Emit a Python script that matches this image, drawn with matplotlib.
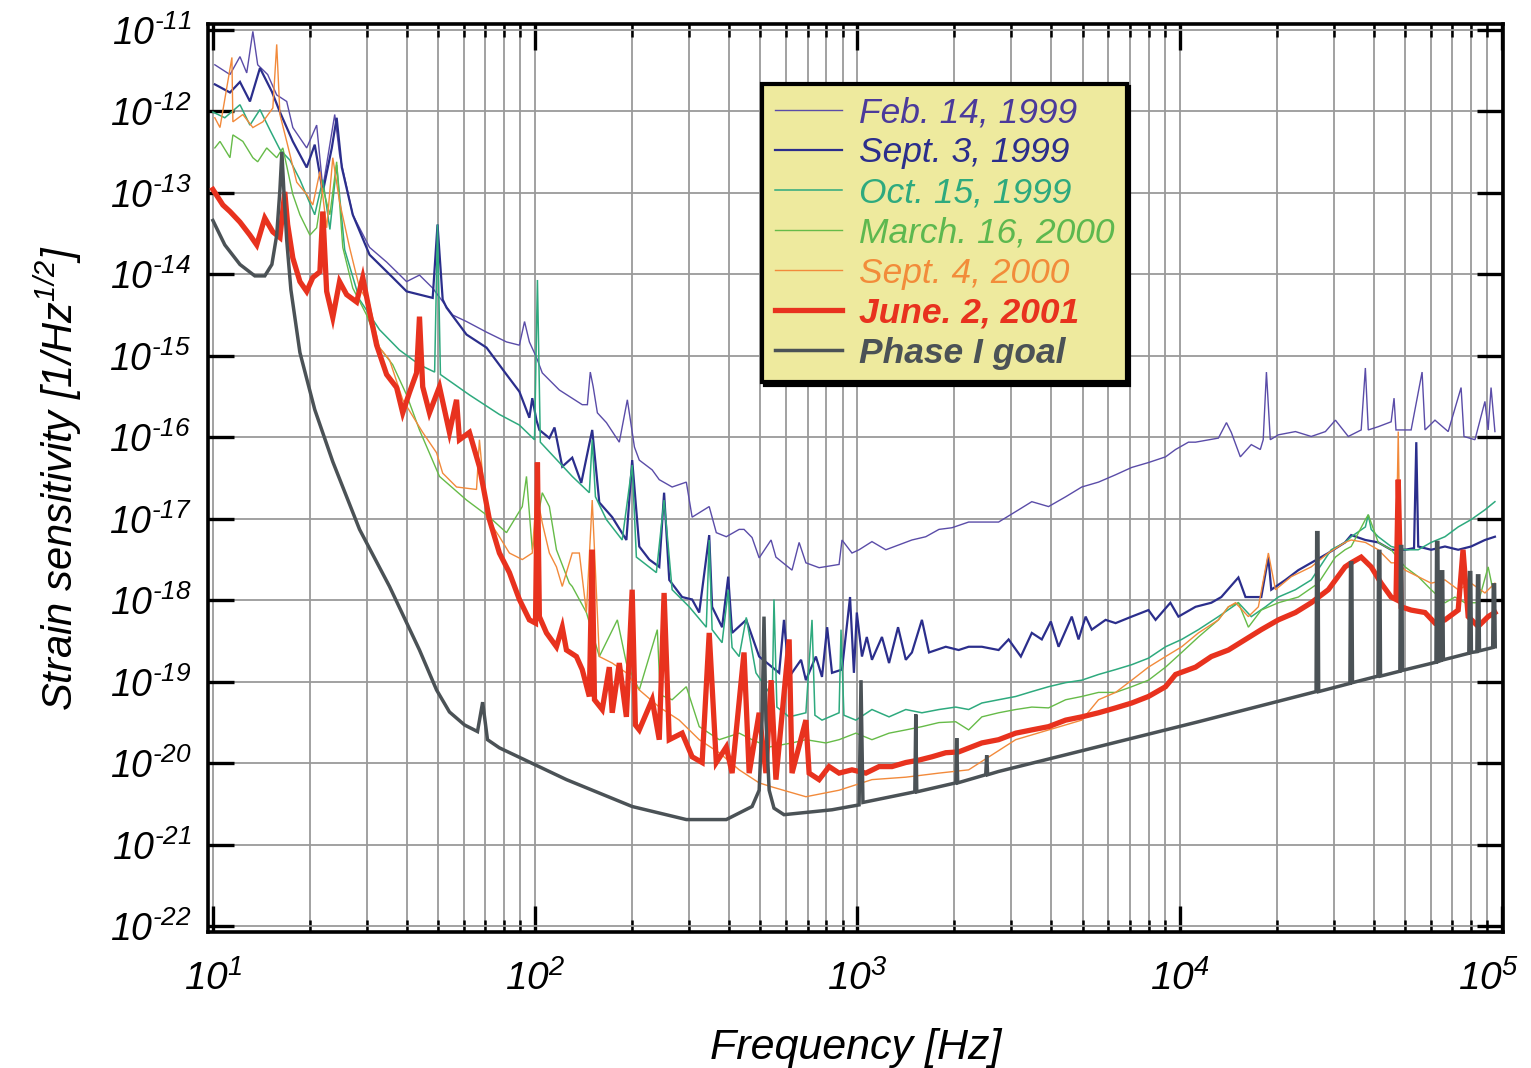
import numpy as np
import matplotlib
matplotlib.use('Agg')
import matplotlib.pyplot as plt
from matplotlib import font_manager as fm
from matplotlib.font_manager import FontProperties
from matplotlib.ticker import FixedLocator, NullLocator, FuncFormatter
from matplotlib.transforms import ScaledTranslation

# ---------------- data (log10 frequency [Hz], log10 strain [1/sqrt(Hz)]) ----------------
feb99_logf = [1.006, 1.053, 1.084, 1.105, 1.124, 1.139, 1.170, 1.198, 1.229, 1.248, 1.291, 1.322, 1.341, 1.378,
              1.393, 1.434, 1.486, 1.539, 1.601, 1.641, 1.682, 1.744, 1.787, 1.849, 1.911, 1.951, 1.967, 1.982,
              2.004, 2.022, 2.075, 2.146, 2.162, 2.171, 2.180, 2.193, 2.221, 2.261, 2.286, 2.308, 2.323, 2.363,
              2.385, 2.425, 2.469, 2.487, 2.540, 2.562, 2.593, 2.633, 2.648, 2.673, 2.695, 2.732, 2.747, 2.797,
              2.819, 2.840, 2.881, 2.943, 2.952, 2.983, 3.005, 3.045, 3.088, 3.169, 3.212, 3.253, 3.293, 3.345,
              3.438, 3.500, 3.541, 3.593, 3.646, 3.696, 3.748, 3.801, 3.851, 3.903, 3.956, 3.987, 4.027, 4.049,
              4.120, 4.145, 4.160, 4.188, 4.222, 4.250, 4.259, 4.269, 4.281, 4.306, 4.359, 4.408, 4.452, 4.483,
              4.523, 4.563, 4.576, 4.585, 4.616, 4.656, 4.665, 4.671, 4.718, 4.752, 4.761, 4.792, 4.833, 4.873,
              4.882, 4.916, 4.947, 4.957, 4.966, 4.978]
feb99_logh = [-11.43, -11.55, -11.33, -11.53, -11.02, -11.43, -11.55, -11.80, -11.88, -12.20, -12.45, -12.17, -12.94,
              -12.04, -12.53, -13.27, -13.67, -13.85, -14.09, -14.01, -14.17, -14.50, -14.58, -14.71, -14.83, -14.87,
              -14.58, -14.83, -15.02, -15.21, -15.42, -15.60, -15.60, -15.20, -15.38, -15.70, -15.82, -16.06, -15.54,
              -16.12, -16.28, -16.40, -16.52, -16.61, -16.55, -16.98, -16.85, -17.17, -17.22, -17.13, -17.13, -17.23,
              -17.48, -17.26, -17.47, -17.63, -17.29, -17.54, -17.60, -17.56, -17.26, -17.42, -17.38, -17.28, -17.38,
              -17.26, -17.22, -17.13, -17.11, -17.04, -17.04, -16.89, -16.79, -16.85, -16.73, -16.61, -16.55, -16.46,
              -16.37, -16.31, -16.24, -16.15, -16.06, -16.06, -16.01, -15.82, -15.94, -16.24, -16.09, -16.15, -16.03,
              -15.20, -16.03, -15.97, -15.93, -15.99, -15.93, -15.79, -15.99, -15.91, -15.15, -15.91, -15.87, -15.81,
              -15.52, -15.91, -15.91, -15.20, -15.91, -15.79, -15.93, -15.39, -15.99, -16.03, -15.56, -15.91, -15.39,
              -15.93]

sep99_logf = [1.006, 1.053, 1.084, 1.115, 1.146, 1.183, 1.208, 1.248, 1.291, 1.316, 1.341, 1.369, 1.384, 1.400,
              1.434, 1.486, 1.558, 1.601, 1.682, 1.697, 1.713, 1.725, 1.787, 1.849, 1.911, 1.951, 1.982, 1.991,
              2.004, 2.013, 2.044, 2.060, 2.084, 2.115, 2.143, 2.177, 2.199, 2.239, 2.283, 2.301, 2.323, 2.354,
              2.385, 2.400, 2.416, 2.456, 2.487, 2.509, 2.540, 2.549, 2.580, 2.599, 2.611, 2.655, 2.695, 2.735,
              2.757, 2.772, 2.788, 2.825, 2.840, 2.871, 2.890, 2.906, 2.921, 2.952, 2.977, 2.989, 2.998, 3.014,
              3.029, 3.045, 3.076, 3.098, 3.126, 3.150, 3.169, 3.200, 3.222, 3.274, 3.314, 3.345, 3.386, 3.438,
              3.469, 3.507, 3.541, 3.572, 3.600, 3.624, 3.665, 3.686, 3.708, 3.727, 3.770, 3.801, 3.851, 3.903,
              3.925, 3.971, 3.996, 4.049, 4.098, 4.129, 4.182, 4.204, 4.253, 4.275, 4.284, 4.328, 4.368, 4.408,
              4.461, 4.513, 4.532, 4.576, 4.616, 4.656, 4.699, 4.727, 4.734, 4.740, 4.780, 4.823, 4.864, 4.904,
              4.947, 4.978]
sep99_logh = [-11.67, -11.77, -11.64, -11.88, -11.47, -11.76, -12.01, -12.37, -12.69, -12.41, -12.99, -12.45, -12.08,
              -12.69, -13.27, -13.76, -14.04, -14.21, -14.29, -13.39, -14.31, -14.41, -14.74, -14.90, -15.23, -15.44,
              -15.76, -15.52, -15.79, -15.91, -16.01, -15.88, -16.36, -16.25, -16.56, -15.91, -16.80, -16.98, -17.26,
              -16.28, -17.34, -17.50, -17.59, -16.68, -17.75, -17.96, -17.99, -18.15, -17.20, -18.08, -18.33, -17.71,
              -18.40, -18.24, -18.69, -18.82, -18.89, -18.24, -18.94, -18.73, -18.98, -18.69, -18.94, -18.33, -18.89,
              -18.85, -17.96, -18.89, -18.15, -18.69, -18.45, -18.73, -18.45, -18.77, -18.33, -18.73, -18.64, -18.24,
              -18.64, -18.57, -18.61, -18.57, -18.57, -18.61, -18.48, -18.69, -18.40, -18.48, -18.26, -18.57, -18.20,
              -18.48, -18.20, -18.36, -18.24, -18.28, -18.20, -18.12, -18.24, -18.03, -18.20, -18.08, -18.03, -17.96,
              -17.72, -17.96, -17.96, -17.47, -17.87, -17.75, -17.63, -17.54, -17.42, -17.29, -17.20, -17.26, -17.29,
              -17.38, -17.38, -17.36, -16.06, -17.34, -17.38, -17.34, -17.38, -17.34, -17.26, -17.22]

oct99_logf = [1.000, 1.037, 1.084, 1.115, 1.146, 1.177, 1.208, 1.239, 1.270, 1.316, 1.341, 1.363, 1.384, 1.409,
              1.455, 1.517, 1.579, 1.641, 1.688, 1.697, 1.706, 1.796, 1.889, 1.951, 1.998, 2.007, 2.016, 2.115,
              2.168, 2.177, 2.187, 2.221, 2.270, 2.301, 2.314, 2.376, 2.400, 2.425, 2.478, 2.531, 2.540, 2.549,
              2.580, 2.599, 2.611, 2.633, 2.655, 2.685, 2.726, 2.735, 2.741, 2.750, 2.788, 2.840, 2.859, 2.868,
              2.890, 2.943, 2.949, 2.958, 2.995, 3.045, 3.098, 3.150, 3.200, 3.253, 3.305, 3.345, 3.386, 3.438,
              3.491, 3.541, 3.593, 3.646, 3.696, 3.748, 3.801, 3.851, 3.903, 3.956, 4.006, 4.058, 4.120, 4.182,
              4.222, 4.266, 4.306, 4.359, 4.408, 4.470, 4.513, 4.532, 4.576, 4.585, 4.594, 4.616, 4.656, 4.699,
              4.740, 4.780, 4.823, 4.864, 4.904, 4.947, 4.978]
oct99_logh = [-12.01, -12.08, -11.92, -12.17, -11.98, -12.23, -12.47, -12.60, -12.84, -13.27, -12.84, -13.45, -12.66,
              -13.70, -14.31, -14.68, -14.93, -15.11, -15.20, -13.39, -15.23, -15.48, -15.72, -15.85, -16.03, -14.07,
              -16.06, -16.48, -16.68, -16.03, -16.73, -17.01, -17.26, -16.34, -17.47, -17.66, -16.77, -17.87, -18.08,
              -18.33, -17.26, -18.36, -18.52, -17.87, -18.58, -18.69, -18.21, -18.89, -19.13, -19.31, -17.99, -19.31,
              -19.43, -19.38, -18.24, -19.41, -19.47, -19.38, -18.36, -19.41, -19.47, -19.34, -19.43, -19.34, -19.38,
              -19.34, -19.31, -19.34, -19.26, -19.22, -19.18, -19.12, -19.06, -19.01, -18.98, -18.91, -18.85, -18.79,
              -18.71, -18.57, -18.48, -18.36, -18.20, -18.03, -18.20, -18.08, -17.96, -17.87, -17.75, -17.38, -17.29,
              -17.22, -17.10, -16.95, -17.13, -17.22, -17.34, -17.38, -17.38, -17.29, -17.22, -17.10, -17.01, -16.89,
              -16.79]

mar00_logf = [1.006, 1.022, 1.053, 1.062, 1.093, 1.124, 1.139, 1.167, 1.198, 1.217, 1.248, 1.270, 1.301, 1.322,
              1.341, 1.363, 1.384, 1.403, 1.434, 1.477, 1.517, 1.558, 1.601, 1.641, 1.703, 1.787, 1.858, 1.911,
              1.960, 1.973, 1.991, 2.022, 2.044, 2.066, 2.106, 2.115, 2.159, 2.199, 2.255, 2.283, 2.323, 2.379,
              2.388, 2.425, 2.469, 2.509, 2.571, 2.633, 2.673, 2.726, 2.797, 2.840, 2.902, 2.943, 2.995, 3.045,
              3.098, 3.150, 3.200, 3.253, 3.305, 3.345, 3.386, 3.438, 3.491, 3.541, 3.593, 3.646, 3.696, 3.748,
              3.801, 3.851, 3.903, 3.956, 4.006, 4.058, 4.120, 4.151, 4.182, 4.213, 4.253, 4.306, 4.368, 4.430,
              4.483, 4.513, 4.532, 4.576, 4.585, 4.616, 4.656, 4.699, 4.740, 4.780, 4.823, 4.854, 4.885, 4.926,
              4.957, 4.978]
mar00_logh = [-12.45, -12.37, -12.57, -12.29, -12.37, -12.57, -12.62, -12.45, -12.57, -12.45, -13.02, -13.27, -13.52,
              -13.43, -12.94, -13.27, -12.62, -13.67, -14.17, -14.50, -14.90, -15.11, -15.48, -15.91, -16.48, -16.77,
              -16.98, -17.17, -16.85, -16.48, -17.38, -16.68, -16.85, -17.38, -17.79, -17.83, -18.15, -18.69, -18.24,
              -18.77, -19.10, -18.36, -19.16, -19.22, -19.06, -19.55, -19.71, -19.63, -19.71, -19.80, -19.75, -19.71,
              -19.75, -19.71, -19.63, -19.71, -19.63, -19.59, -19.55, -19.50, -19.49, -19.59, -19.43, -19.38, -19.34,
              -19.31, -19.32, -19.22, -19.18, -19.13, -19.13, -19.06, -18.98, -18.82, -18.64, -18.45, -18.24, -18.08,
              -18.03, -18.33, -18.12, -18.03, -17.96, -17.79, -17.47, -17.38, -17.34, -17.01, -16.95, -17.29, -17.38,
              -17.59, -17.71, -17.87, -18.03, -17.96, -18.03, -18.03, -17.59, -17.99]

sep00_logf = [1.006, 1.022, 1.059, 1.062, 1.093, 1.124, 1.155, 1.186, 1.198, 1.208, 1.229, 1.260, 1.291, 1.310,
              1.332, 1.353, 1.372, 1.393, 1.424, 1.455, 1.486, 1.517, 1.548, 1.589, 1.651, 1.694, 1.713, 1.756,
              1.818, 1.827, 1.849, 1.889, 1.920, 1.960, 1.991, 2.004, 2.022, 2.044, 2.066, 2.084, 2.115, 2.137,
              2.159, 2.177, 2.199, 2.239, 2.283, 2.323, 2.385, 2.447, 2.509, 2.571, 2.633, 2.695, 2.735, 2.840,
              2.943, 3.045, 3.150, 3.253, 3.345, 3.491, 3.696, 3.748, 3.801, 3.851, 3.903, 3.956, 4.006, 4.058,
              4.120, 4.151, 4.173, 4.213, 4.244, 4.275, 4.297, 4.346, 4.408, 4.461, 4.513, 4.532, 4.576, 4.616,
              4.656, 4.671, 4.678, 4.684, 4.699, 4.740, 4.780, 4.823, 4.864, 4.904, 4.947, 4.978]
sep00_logh = [-12.08, -12.20, -11.34, -12.13, -12.04, -12.20, -12.13, -11.96, -11.18, -12.04, -12.37, -12.87, -13.02,
              -13.15, -12.74, -13.43, -12.57, -13.11, -13.67, -14.17, -14.37, -14.90, -15.05, -15.54, -15.94, -16.19,
              -16.44, -16.61, -16.64, -16.03, -16.98, -17.22, -17.42, -17.50, -17.42, -16.68, -17.05, -17.42, -17.59,
              -17.83, -17.42, -17.42, -18.15, -16.77, -18.69, -18.77, -18.89, -19.10, -19.31, -19.47, -19.71, -19.87,
              -20.08, -20.24, -20.29, -20.41, -20.33, -20.20, -20.17, -20.12, -20.08, -19.71, -19.47, -19.22, -19.13,
              -18.98, -18.82, -18.69, -18.57, -18.40, -18.24, -18.08, -18.03, -18.20, -18.08, -17.42, -17.87, -17.71,
              -17.59, -17.42, -17.29, -17.26, -17.29, -17.38, -17.54, -17.54, -15.93, -17.56, -17.63, -17.71, -17.79,
              -17.75, -17.87, -17.79, -17.91, -17.79]

jun01_logf = [1.000, 1.031, 1.053, 1.084, 1.115, 1.136, 1.161, 1.186, 1.208, 1.223, 1.232, 1.248, 1.270, 1.291,
              1.310, 1.332, 1.341, 1.353, 1.372, 1.393, 1.415, 1.446, 1.465, 1.486, 1.508, 1.539, 1.570, 1.589,
              1.610, 1.632, 1.641, 1.651, 1.672, 1.703, 1.734, 1.756, 1.765, 1.796, 1.827, 1.858, 1.889, 1.920,
              1.951, 1.982, 2.001, 2.007, 2.013, 2.035, 2.066, 2.084, 2.097, 2.128, 2.146, 2.168, 2.177, 2.184,
              2.208, 2.230, 2.239, 2.261, 2.283, 2.301, 2.311, 2.323, 2.363, 2.385, 2.400, 2.416, 2.456, 2.487,
              2.518, 2.540, 2.562, 2.593, 2.611, 2.648, 2.664, 2.695, 2.716, 2.732, 2.747, 2.788, 2.797, 2.840,
              2.850, 2.881, 2.912, 2.943, 2.983, 3.026, 3.067, 3.107, 3.150, 3.191, 3.231, 3.274, 3.314, 3.386,
              3.438, 3.491, 3.541, 3.593, 3.646, 3.696, 3.748, 3.801, 3.851, 3.903, 3.956, 3.987, 4.049, 4.098,
              4.151, 4.204, 4.253, 4.306, 4.359, 4.408, 4.461, 4.513, 4.532, 4.563, 4.594, 4.625, 4.656, 4.671,
              4.678, 4.687, 4.718, 4.761, 4.792, 4.823, 4.864, 4.879, 4.895, 4.926, 4.957, 4.978]
jun01_logh = [-12.96, -13.15, -13.23, -13.36, -13.52, -13.64, -13.31, -13.48, -13.55, -12.99, -13.39, -13.80, -14.09,
              -14.21, -14.04, -13.97, -13.23, -14.21, -14.53, -14.09, -14.25, -14.34, -14.04, -14.46, -14.87, -15.23,
              -15.39, -15.70, -15.45, -15.21, -14.52, -15.38, -15.70, -15.38, -15.94, -15.54, -16.03, -15.94, -16.36,
              -17.01, -17.42, -17.66, -17.99, -18.24, -18.28, -16.31, -18.20, -18.40, -18.57, -18.33, -18.61, -18.69,
              -18.85, -19.18, -17.38, -19.22, -19.34, -18.82, -19.38, -18.77, -19.43, -17.87, -19.53, -19.59, -19.22,
              -19.71, -17.91, -19.71, -19.63, -19.92, -19.99, -18.40, -19.99, -19.80, -20.12, -18.64, -20.12, -19.38,
              -20.12, -18.98, -20.20, -18.48, -20.12, -19.47, -20.12, -20.20, -20.04, -20.12, -20.08, -20.12, -20.04,
              -20.04, -19.99, -19.96, -19.92, -19.87, -19.86, -19.75, -19.71, -19.63, -19.59, -19.55, -19.47, -19.43,
              -19.38, -19.32, -19.26, -19.18, -19.06, -18.91, -18.82, -18.69, -18.61, -18.48, -18.36, -18.24, -18.15,
              -18.03, -17.87, -17.59, -17.54, -17.47, -17.59, -17.79, -17.96, -17.99, -16.52, -18.08, -18.12, -18.15,
              -18.28, -18.24, -18.12, -17.38, -18.20, -18.32, -18.20, -18.15]

goal_logf = [1.000, 1.037, 1.084, 1.130, 1.161, 1.183, 1.198, 1.208, 1.214, 1.220, 1.229, 1.242, 1.270, 1.316,
             1.372, 1.455, 1.548, 1.641, 1.694, 1.734, 1.781, 1.821, 1.837, 1.852, 1.889, 2.097, 2.301, 2.469,
             2.593, 2.673, 2.695, 2.704, 2.710, 2.716, 2.726, 2.741, 2.772, 2.921, 3.005, 3.011, 3.017, 3.178,
             3.181, 3.184, 3.305, 3.308, 3.311, 3.398, 3.401, 3.404, 3.438, 4.058,
             4.423, 4.425, 4.429, 4.431,
             4.528, 4.530, 4.534, 4.536,
             4.615, 4.617, 4.621, 4.623,
             4.683, 4.685, 4.689, 4.691,
             4.795, 4.797, 4.801, 4.803,
             4.810, 4.812, 4.816, 4.818,
             4.897, 4.899, 4.903, 4.905,
             4.922, 4.924, 4.928, 4.930,
             4.971, 4.973, 4.977, 4.979]
goal_logh = [-13.34, -13.64, -13.88, -14.02, -14.02, -13.88, -13.52, -12.96, -12.50, -12.96, -13.58, -14.19, -14.96,
             -15.66, -16.30, -17.13, -17.83, -18.61, -19.10, -19.37, -19.53, -19.61, -19.25, -19.71, -19.81, -20.20,
             -20.53, -20.69, -20.69, -20.53, -20.33, -19.47, -18.20, -19.47, -20.33, -20.55, -20.63, -20.57, -20.51,
             -18.98, -20.48, -20.35, -19.40, -20.35, -20.24, -19.69, -20.24, -20.14, -19.90, -20.14, -20.10, -19.49,
             -19.12, -17.17, -17.17, -19.12,
             -19.02, -17.54, -17.54, -19.01,
             -18.93, -17.40, -17.40, -18.93,
             -18.87, -17.34, -17.34, -18.86,
             -18.76, -17.29, -17.29, -18.75,
             -18.74, -17.65, -17.65, -18.73,
             -18.65, -17.66, -17.66, -18.64,
             -18.63, -17.70, -17.70, -18.62,
             -18.58, -17.81, -17.81, -18.57]

series_labels = ['Feb. 14, 1999', 'Sept. 3, 1999', 'Oct. 15, 1999', 'March. 16, 2000',
                 'Sept. 4, 2000', 'June. 2, 2001', 'Phase I goal']
x_tick_exponents = [1, 2, 3, 4, 5]
y_tick_exponents = [-11, -12, -13, -14, -15, -16, -17, -18, -19, -20, -21, -22]

# ---------------- styles ----------------
line_colors = ['#5a4ca8', '#2b2e8c', '#2eaa7e', '#66bb48', '#f28a3b', '#e8321e', '#4b5256']
text_colors = ['#4b3a9b', '#2b2e8c', '#2eaa7e', '#5db84f', '#f28c3a', '#e8321e', '#4b5256']
line_widths = [1.0, 1.6, 1.1, 1.0, 1.0, 3.8, 2.5]

names = {f.name for f in fm.fontManager.ttflist}
narrow = 'Liberation Sans Narrow' if 'Liberation Sans Narrow' in names else 'Liberation Sans'
plt.rcParams['font.family'] = [narrow, 'DejaVu Sans']
plt.rcParams['mathtext.fontset'] = 'custom'
plt.rcParams['mathtext.rm'] = narrow + ':italic'
plt.rcParams['mathtext.it'] = narrow + ':italic'
plt.rcParams['mathtext.bf'] = narrow + ':italic:bold'
plt.rcParams['mathtext.sf'] = narrow + ':italic'

fig = plt.figure(figsize=(15.31, 10.68), dpi=100)
ax = fig.add_axes([0.1359, 0.1273, 0.8458, 0.8502])

all_f = [feb99_logf, sep99_logf, oct99_logf, mar00_logf, sep00_logf, jun01_logf, goal_logf]
all_h = [feb99_logh, sep99_logh, oct99_logh, mar00_logh, sep00_logh, jun01_logh, goal_logh]
handles = []
for lf, lh, c, lw, lab in zip(all_f, all_h, line_colors, line_widths, series_labels):
    ln, = ax.plot(10 ** np.array(lf), 10 ** np.array(lh), color=c, lw=lw, label=lab,
                  solid_joinstyle='miter', zorder=3)
    handles.append(ln)

ax.set_xscale('log')
ax.set_yscale('log')
ax.set_xlim(10 ** 0.985, 10 ** 5.003)
ax.set_ylim(10 ** -22.07, 10 ** -10.93)


def exp_label(v, p):
    e = int(round(np.log10(v)))
    if e < 0:
        return r'$10^{\text{-}%d}$' % (-e)
    return r'$10^{%d}$' % e


ax.xaxis.set_major_locator(FixedLocator([10.0 ** e for e in x_tick_exponents]))
ax.xaxis.set_minor_locator(FixedLocator([m * 10.0 ** e for e in range(1, 5) for m in range(2, 10)]))
ax.yaxis.set_major_locator(FixedLocator([10.0 ** e for e in y_tick_exponents]))
ax.yaxis.set_minor_locator(NullLocator())
ax.xaxis.set_major_formatter(FuncFormatter(exp_label))
ax.yaxis.set_major_formatter(FuncFormatter(exp_label))

ax.grid(which='major', axis='both', color='#9a9a9a', lw=1.3, zorder=0)
ax.grid(which='minor', axis='x', color='#9a9a9a', lw=1.3, zorder=0)
ax.set_axisbelow(True)

ax.tick_params(which='both', direction='in', top=True, right=True, colors='black')
ax.tick_params(which='major', length=19, width=2.4)
ax.tick_params(which='minor', length=9, width=1.8)
ax.tick_params(axis='x', which='major', pad=20, labelsize=28)
ax.tick_params(axis='y', which='major', pad=12, labelsize=27)
for sp in ax.spines.values():
    sp.set_linewidth(2.6)

ax.set_xlabel(r'Frequency [Hz]', fontsize=31, style='italic', labelpad=22)
ax.set_ylabel(r'Strain sensitivity [1/Hz$^{1/2}$]', fontsize=30, style='italic', labelpad=18)

# keep the right-most frequency label inside the canvas
last_tick = ax.xaxis.get_major_ticks()[-1]
last_tick.label1.set_transform(last_tick.label1.get_transform() +
                               ScaledTranslation(-14 / 100, 0, fig.dpi_scale_trans))

leg = ax.legend(handles=handles, labels=series_labels, loc='upper left',
                bbox_to_anchor=(0.428, 0.934), borderaxespad=0,
                prop=FontProperties(family='Liberation Sans', style='italic', size=25.5),
                handlelength=1.9, handletextpad=0.47, labelspacing=0.2, borderpad=0.35,
                fancybox=False, framealpha=1, facecolor='#eeea9e', edgecolor='black',
                shadow={'color': 'black', 'alpha': 1})
leg.get_frame().set_linewidth(3)
for t, c in zip(leg.get_texts(), text_colors):
    t.set_color(c)
for t in leg.get_texts()[5:]:
    t.set_fontweight('bold')

fig.savefig('out.png', dpi=100)
